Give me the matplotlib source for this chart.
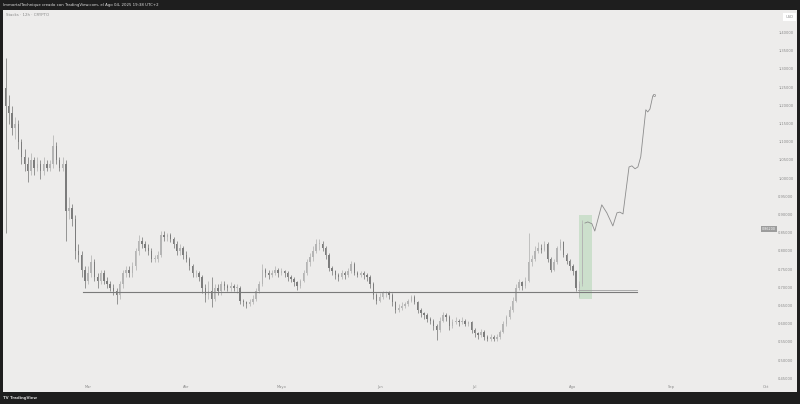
import datetime as dt
import numpy as np
import matplotlib
matplotlib.use("Agg")
import matplotlib.pyplot as plt
import matplotlib.transforms as mtransforms
from matplotlib.patches import Rectangle


# 12h chart read as one candle per day, starting 2025-02-03
start = dt.date(2025, 2, 3)
first_open = 1.25
closes = [
    1.20, 1.18, 1.14, 1.15, 1.10, 1.06, 1.04, 1.02, 1.05, 1.03,
    1.04, 1.02, 1.04, 1.03, 1.04, 1.09, 1.05, 1.03, 1.04, 0.91,
    0.92, 0.89, 0.80, 0.79, 0.75, 0.72, 0.74, 0.77, 0.73, 0.72,
    0.74, 0.72, 0.71, 0.70, 0.69, 0.68, 0.71, 0.74, 0.75, 0.74,
    0.76, 0.80, 0.83, 0.82, 0.81, 0.80, 0.78, 0.78, 0.79, 0.845,
    0.84, 0.845, 0.835, 0.82, 0.80, 0.81, 0.79, 0.78, 0.76, 0.74,
    0.74, 0.73, 0.70, 0.68, 0.69, 0.67, 0.70, 0.69, 0.71, 0.705,
    0.70, 0.705, 0.70, 0.70, 0.665, 0.66, 0.655, 0.66, 0.67, 0.69,
    0.71, 0.75, 0.74, 0.735, 0.74, 0.75, 0.74, 0.745, 0.74, 0.73,
    0.725, 0.715, 0.705, 0.72, 0.74, 0.77, 0.785, 0.80, 0.82, 0.82,
    0.81, 0.79, 0.755, 0.745, 0.735, 0.73, 0.74, 0.735, 0.745, 0.765,
    0.74, 0.735, 0.74, 0.735, 0.73, 0.71, 0.68, 0.665, 0.675, 0.685,
    0.685, 0.68, 0.66, 0.64, 0.645, 0.65, 0.655, 0.665, 0.675, 0.66,
    0.64, 0.63, 0.625, 0.615, 0.61, 0.595, 0.585, 0.61, 0.625, 0.62,
    0.595, 0.605, 0.61, 0.605, 0.61, 0.60, 0.605, 0.585, 0.575, 0.57,
    0.58, 0.565, 0.56, 0.565, 0.56, 0.565, 0.58, 0.60, 0.62, 0.64,
    0.665, 0.70, 0.715, 0.705, 0.72, 0.77, 0.78, 0.80, 0.81, 0.805,
    0.82, 0.78, 0.75, 0.77, 0.81, 0.825, 0.79, 0.775, 0.76, 0.745,
    0.70, 0.71, 0.875,
]
highs = [
    1.33, 1.23, 1.20, 1.17, 1.16, 1.11, 1.08, 1.06, 1.07, 1.06,
    1.06, 1.05, 1.06, 1.05, 1.05, 1.12, 1.10, 1.06, 1.06, 1.05,
    0.95, 0.93, 0.90, 0.82, 0.80, 0.76, 0.76, 0.79, 0.78, 0.74,
    0.75, 0.75, 0.73, 0.72, 0.71, 0.70, 0.72, 0.75, 0.76, 0.76,
    0.77, 0.81, 0.845, 0.84, 0.83, 0.82, 0.81, 0.79, 0.80, 0.855,
    0.855, 0.85, 0.85, 0.84, 0.83, 0.82, 0.815, 0.80, 0.785, 0.765,
    0.75, 0.745, 0.735, 0.71, 0.72, 0.73, 0.71, 0.71, 0.72, 0.72,
    0.71, 0.715, 0.71, 0.71, 0.705, 0.67, 0.665, 0.67, 0.68, 0.70,
    0.72, 0.765, 0.755, 0.75, 0.75, 0.76, 0.755, 0.755, 0.75, 0.745,
    0.735, 0.73, 0.72, 0.725, 0.75, 0.78, 0.795, 0.815, 0.835, 0.835,
    0.83, 0.815, 0.795, 0.76, 0.75, 0.74, 0.75, 0.745, 0.755, 0.775,
    0.77, 0.745, 0.745, 0.745, 0.74, 0.735, 0.715, 0.685, 0.685, 0.69,
    0.69, 0.69, 0.685, 0.665, 0.655, 0.66, 0.66, 0.67, 0.68, 0.68,
    0.665, 0.645, 0.635, 0.63, 0.62, 0.615, 0.60, 0.62, 0.634, 0.63,
    0.625, 0.615, 0.62, 0.615, 0.62, 0.615, 0.61, 0.61, 0.59, 0.58,
    0.587, 0.585, 0.57, 0.572, 0.57, 0.572, 0.585, 0.61, 0.625, 0.65,
    0.675, 0.71, 0.725, 0.72, 0.73, 0.85, 0.79, 0.815, 0.825, 0.82,
    0.83, 0.825, 0.785, 0.78, 0.815, 0.835, 0.83, 0.795, 0.78, 0.765,
    0.75, 0.72, 0.885,
]
lows = [
    0.85, 1.15, 1.12, 1.11, 1.08, 1.04, 1.02, 0.99, 1.01, 1.01,
    1.02, 1.00, 1.01, 1.02, 1.02, 1.03, 1.04, 1.02, 1.02, 0.83,
    0.89, 0.87, 0.78, 0.77, 0.73, 0.70, 0.71, 0.73, 0.72, 0.70,
    0.71, 0.71, 0.70, 0.69, 0.68, 0.655, 0.67, 0.70, 0.73, 0.73,
    0.73, 0.75, 0.79, 0.81, 0.80, 0.79, 0.77, 0.77, 0.77, 0.785,
    0.83, 0.83, 0.825, 0.81, 0.79, 0.79, 0.78, 0.77, 0.75, 0.73,
    0.73, 0.72, 0.685, 0.66, 0.67, 0.648, 0.665, 0.68, 0.68, 0.695,
    0.69, 0.69, 0.69, 0.685, 0.655, 0.65, 0.645, 0.65, 0.655, 0.665,
    0.685, 0.705, 0.73, 0.725, 0.73, 0.735, 0.73, 0.735, 0.73, 0.72,
    0.715, 0.705, 0.695, 0.70, 0.715, 0.735, 0.76, 0.775, 0.795, 0.805,
    0.80, 0.78, 0.745, 0.735, 0.725, 0.72, 0.725, 0.725, 0.73, 0.74,
    0.735, 0.73, 0.73, 0.725, 0.72, 0.70, 0.67, 0.655, 0.66, 0.67,
    0.675, 0.67, 0.65, 0.632, 0.635, 0.64, 0.645, 0.65, 0.66, 0.655,
    0.63, 0.62, 0.615, 0.605, 0.60, 0.585, 0.557, 0.58, 0.605, 0.61,
    0.585, 0.59, 0.60, 0.595, 0.60, 0.595, 0.595, 0.575, 0.565, 0.56,
    0.565, 0.557, 0.553, 0.555, 0.553, 0.555, 0.56, 0.575, 0.595, 0.615,
    0.635, 0.66, 0.695, 0.695, 0.70, 0.715, 0.76, 0.775, 0.795, 0.795,
    0.80, 0.77, 0.744, 0.745, 0.765, 0.805, 0.785, 0.765, 0.75, 0.735,
    0.69, 0.675, 0.705,
]

# drawn projection path (days after start, price)
path_days = [182.8, 183.7, 185.0, 185.9, 188.1, 189.7, 191.6, 192.9, 193.8, 194.8,
             196.7, 197.6, 198.6, 199.5, 200.4, 202.0, 202.6, 203.3, 204.2, 204.5]
path_prices = [0.878, 0.881, 0.876, 0.856, 0.928, 0.906, 0.870, 0.906, 0.908, 0.903,
               1.032, 1.035, 1.027, 1.032, 1.060, 1.189, 1.183, 1.191, 1.227, 1.230]

support_level = 0.689
support_days = (24.5, 199.2)
support2_level = 0.694
support2_days = (180.5, 199.2)
box_days = (180.9, 185.0)
box_prices = (0.670, 0.900)

month_names = ["Mar", "Abr", "Mayo", "Jun", "Jul", "Ago", "Sep", "Oct"]
month_nums = [3, 4, 5, 6, 7, 8, 9, 10]
price_ticks = [1.40, 1.35, 1.30, 1.25, 1.20, 1.15, 1.10, 1.05, 1.00, 0.95,
               0.90, 0.85, 0.80, 0.75, 0.70, 0.65, 0.60, 0.55, 0.50, 0.45]

header = "ImmortalTechnique creado con TradingView.com, el Ago 04, 2025 19:38 UTC+2"
title = "Stacks · 12h · CRYPTO"
last_label = "0,86200"
last_price = 0.862

BG = "#edeceb"
DARK = "#1e1e1e"
UP = "#b4b4b4"
DOWN = "#7c7c7c"

plt.rcParams["font.family"] = ["DejaVu Sans"]

fig = plt.figure(figsize=(8, 4.04), dpi=100, facecolor=DARK)
ax = fig.add_axes([3 / 800, 12 / 404, 794 / 800, 382 / 404])
ax.set_facecolor(BG)
for s in ax.spines.values():
    s.set_visible(False)
ax.set_xticks([])
ax.set_yticks([])
ax.set_xlim(-0.82, 249.7)
ax.set_ylim(0.414, 1.463)

days = np.arange(len(closes))
closes = np.array(closes)
opens = np.concatenate([[first_open], closes[:-1]])
up = closes >= opens
colors = np.where(up, UP, DOWN)

ax.vlines(days, lows, highs, colors=colors, linewidth=0.55, zorder=2)
body_lo = np.minimum(opens, closes)
body_h = np.maximum(np.abs(closes - opens), 0.002)
ax.bar(days, body_h, bottom=body_lo, width=0.45, color=colors, linewidth=0, zorder=3)

# drawings
ax.plot(support_days, [support_level] * 2, color="#7a7a7a", linewidth=0.8, zorder=4)
ax.plot(support2_days, [support2_level] * 2, color="#a0a0a0", linewidth=0.6, zorder=4)
ax.add_patch(Rectangle((box_days[0], box_prices[0]), box_days[1] - box_days[0],
                       box_prices[1] - box_prices[0], facecolor="#4caf50", alpha=0.2,
                       edgecolor="none", zorder=1))
ax.plot(path_days, path_prices, color="#8c8c8c", linewidth=0.6, zorder=5)
ax.plot(path_days[-1], path_prices[-1], "o", ms=1.5, mfc=BG, mec="#8c8c8c", mew=0.5, zorder=6)

# price scale text
ytr = mtransforms.blended_transform_factory(ax.transAxes, ax.transData)
for p in price_ticks:
    ax.text(0.9955, p, f"{p:.5f}".replace(".", ","), transform=ytr, ha="right",
            va="center", fontsize=2.6, color="#8a8a8a")
ax.text(0.9955, 1.443, "USD", transform=ytr, ha="right", va="center",
        fontsize=2.6, color="#8a8a8a",
        bbox=dict(boxstyle="square,pad=0.6", fc="white", ec="none"))
ax.text(0.9737, last_price, last_label, transform=ytr, ha="right", va="center",
        fontsize=2.4, color="white",
        bbox=dict(boxstyle="square,pad=0.4", fc="#9c9c9c", ec="none"))

# time scale text
xtr = mtransforms.blended_transform_factory(ax.transData, ax.transAxes)
for m, name in zip(month_nums, month_names):
    d = (dt.date(2025, m, 1) - start).days
    ax.text(d, 0.013, name, transform=xtr, ha="center", va="center",
            fontsize=2.6, color="#8a8a8a")

ax.text(0.004, 0.988, title, transform=ax.transAxes, ha="left", va="center",
        fontsize=2.8, color="#8a8a8a")

fig.text(3 / 800, 1 - 5 / 404, header, ha="left", va="center", fontsize=2.8,
         color="#e0e0e0")
fig.text(3 / 800, 6 / 404, "TV TradingView", ha="left", va="center", fontsize=2.8,
         color="#d0d0d0", fontweight="bold")

fig.savefig("out.png", dpi=100, facecolor=DARK)
